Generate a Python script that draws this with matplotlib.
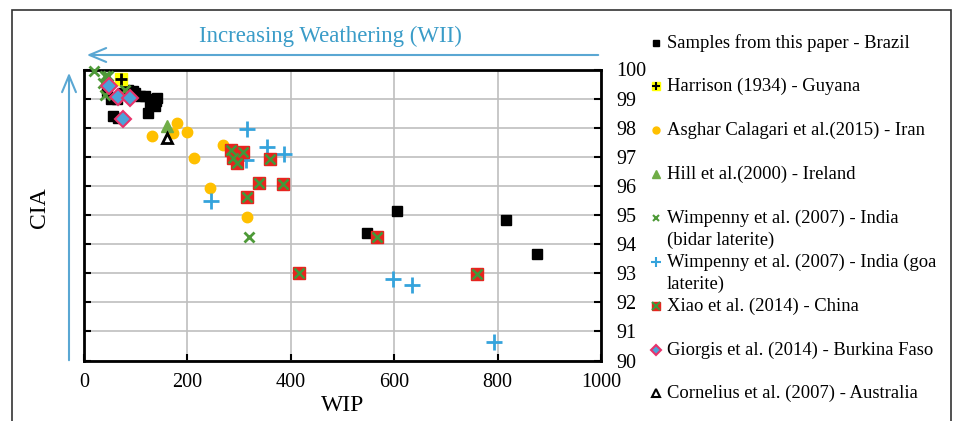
import matplotlib
matplotlib.use("Agg")
from matplotlib import pyplot as plt
from matplotlib.lines import Line2D
from matplotlib.patches import Rectangle

plt.rcParams['font.family'] = ['Liberation Serif', 'DejaVu Serif']

# data (WIP, CIA)
brazil_wip = [44, 53, 57, 63, 66, 75, 86, 95, 99, 108, 118, 124, 128, 131, 137, 140, 141, 548, 605, 817, 876]
brazil_cia = [99.25, 98.97, 98.39, 98.97, 98.33, 99.2, 99.31, 99.25, 99.2, 99.08, 99.08, 98.5, 98.79,
              98.97, 98.73, 98.91, 99.02, 94.37, 95.15, 94.83, 93.66]
harrison_wip = [72]
harrison_cia = [99.66]
asghar_wip = [131, 173, 179, 199, 213, 243, 269, 316]
asghar_cia = [97.72, 97.82, 98.16, 97.84, 96.97, 95.92, 97.39, 94.94]
hill_wip = [161]
hill_cia = [98.07]
bidar_wip = [20, 37, 41, 47, 41, 79, 320]
bidar_cia = [99.95, 99.54, 99.77, 99.77, 99.14, 99.3, 94.25]
goa_wip = [245, 313, 316, 353, 387, 597, 635, 794]
goa_cia = [95.49, 96.9, 97.95, 97.32, 97.1, 92.8, 92.59, 90.62]
xiao_wip = [284, 308, 289, 295, 360, 339, 384, 315, 416, 567, 760]
xiao_cia = [97.24, 97.16, 96.95, 96.8, 96.92, 96.09, 96.06, 95.63, 92.99, 94.25, 92.97]
giorgis_wip = [48, 66, 89, 76]
giorgis_cia = [99.43, 99.06, 99.02, 98.31]
cornelius_wip = [160]
cornelius_cia = [97.64]

labels = ["Samples from this paper - Brazil",
          "Harrison (1934) - Guyana",
          "Asghar Calagari et al.(2015) - Iran",
          "Hill et al.(2000) - Ireland",
          "Wimpenny et al. (2007) - India\n(bidar laterite)",
          "Wimpenny et al. (2007) - India (goa\nlaterite)",
          "Xiao et al. (2014) - China",
          "Giorgis et al. (2014) - Burkina Faso",
          "Cornelius et al. (2007) - Australia"]

W, H = 954, 421
fig = plt.figure(figsize=(W / 100, H / 100), dpi=100)
ax = fig.add_axes([84 / W, 1 - 360.5 / H, (601 - 84) / W, (360.5 - 69.5) / H])

blue = '#35A3DC'
green = '#4E9A38'
# marker layers per series
styles = [
    [dict(marker='s', color='black', ms=6.5, ls='none')],
    [dict(marker='s', color='#FFFF00', ms=8, ls='none'),
     dict(marker='+', color='black', ms=9, mew=2, ls='none')],
    [dict(marker='o', color='#FFC000', ms=7.5, ls='none')],
    [dict(marker='^', color='#70AD47', ms=8, ls='none')],
    [dict(marker='x', color=green, ms=7, mew=2, ls='none')],
    [dict(marker='+', color=blue, ms=12, mew=2, ls='none')],
    [dict(marker='s', color='#E8231E', ms=9, ls='none'),
     dict(marker='x', color='#3F9A3A', ms=7, mew=1.8, ls='none')],
    [dict(marker='D', mfc='#4BA3D9', mec='#E8336B', mew=1.5, ms=8, ls='none')],
    [dict(marker='^', mfc='white', mec='black', mew=2, ms=7, ls='none')],
]
series = [(brazil_wip, brazil_cia), (harrison_wip, harrison_cia), (asghar_wip, asghar_cia),
          (hill_wip, hill_cia), (bidar_wip, bidar_cia), (goa_wip, goa_cia),
          (xiao_wip, xiao_cia), (giorgis_wip, giorgis_cia), (cornelius_wip, cornelius_cia)]

order = [2, 3, 8, 5, 6, 4, 0, 1, 7]
for i in order:
    xs, ys = series[i]
    for st in styles[i]:
        ax.plot(xs, ys, clip_on=False, zorder=3 + i * 0.1, **st)

ax.set_xlim(0, 1000)
ax.set_ylim(90, 100)
ax.set_xticks(range(0, 1001, 200))
ax.set_yticks(range(90, 101))
ax.grid(color='#BFBFBF', linewidth=1.2)
ax.set_axisbelow(True)
for s in ax.spines.values():
    s.set_linewidth(2)
ax.tick_params(direction='in', length=5, width=1.5, labelsize=14.5, right=True, left=True,
               labelleft=False, labelright=True)
ax.tick_params(axis='y', pad=11)
ax.tick_params(axis='x', pad=9)
ax.set_xlabel("WIP", fontsize=17, labelpad=2)

fig.text(40 / W, 1 - 208 / H, "CIA", fontsize=17, rotation=90, ha='center', va='center')
fig.text(330 / W, 1 - 36 / H, "Increasing Weathering (WII)", fontsize=16.5, color='#3A9CC8',
         ha='center', va='center')
arrow_col = '#5AA7D3'
fig.add_artist(plt.Annotation("", xy=(84 / W, 1 - 55 / H), xytext=(601 / W, 1 - 55 / H),
                              xycoords='figure fraction',
                              arrowprops=dict(arrowstyle='->,head_length=1.2,head_width=0.5',
                                              color=arrow_col, lw=1.5)))
fig.add_artist(plt.Annotation("", xy=(69 / W, 1 - 70 / H), xytext=(69 / W, 1 - 363 / H),
                              xycoords='figure fraction',
                              arrowprops=dict(arrowstyle='->,head_length=1.2,head_width=0.5',
                                              color=arrow_col, lw=1.5)))

# figure frame
fig.add_artist(Rectangle((12 / W, -0.01), (951 - 12) / W, 1 - 10 / H + 0.01,
                         transform=fig.transFigure, fill=False, ec='#333333', lw=1.2))

# legend drawn by hand (uneven spacing with two-line entries)
leg_y = [43, 86, 130, 174, 218, 262, 306, 350, 393]
small = {0: 4.5, 1: 6, 2: 5, 3: 6, 4: 5, 5: 7, 6: 6, 7: 5, 8: 6}
for i, lab in enumerate(labels):
    y = 1 - leg_y[i] / H
    for st in styles[i]:
        st = dict(st)
        st['ms'] = small[i]
        if 'mew' in st:
            st['mew'] = min(st['mew'], 1.5)
        fig.add_artist(Line2D([656 / W], [y], transform=fig.transFigure, **st))
    for k, line in enumerate(lab.split("\n")):
        fig.text(667 / W, y - k * 22 / H, line, fontsize=13.4, ha='left', va='center')

fig.savefig("out.png", dpi=100)
